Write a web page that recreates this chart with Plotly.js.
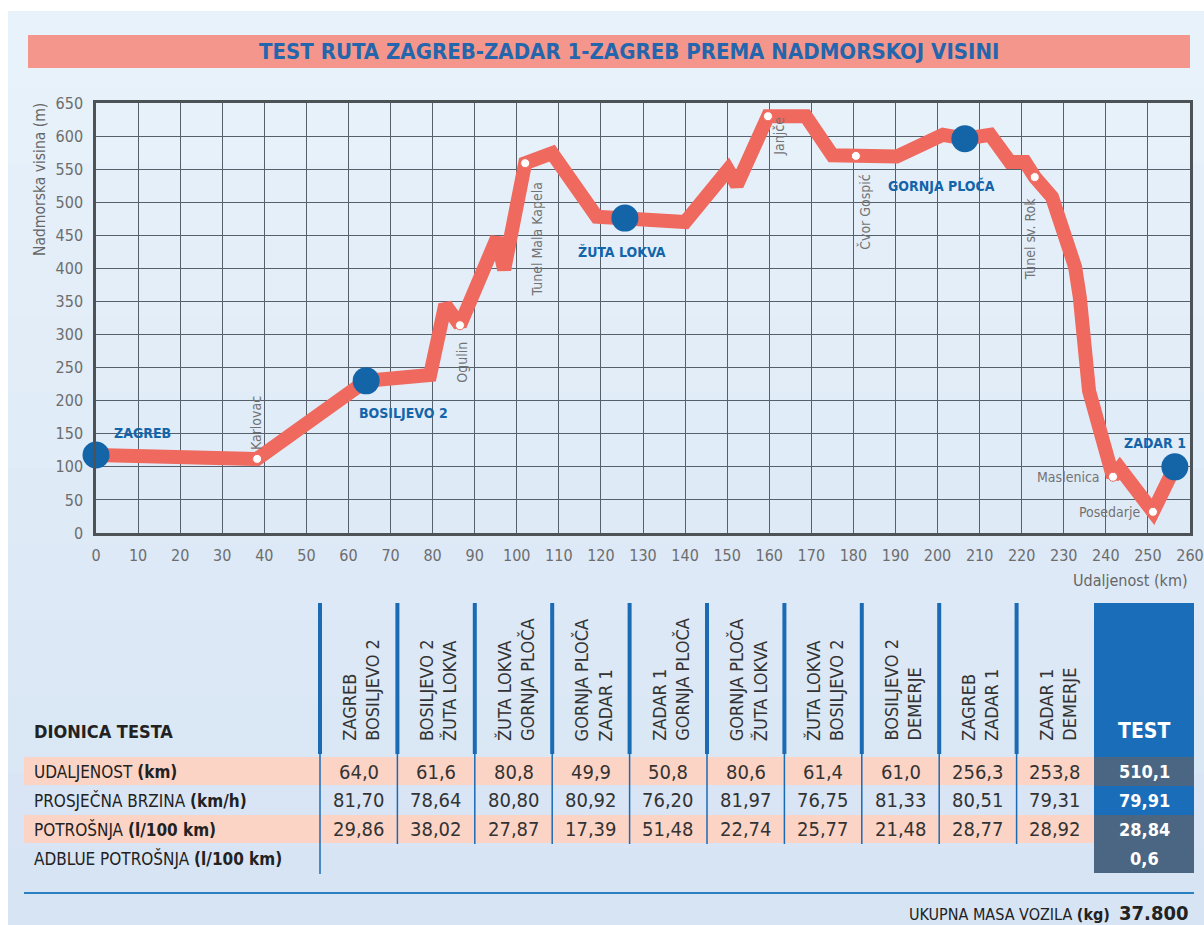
<!DOCTYPE html>
<html>
<head>
<meta charset="utf-8">
<script src="https://cdn.plot.ly/plotly-3.0.1.min.js"></script>
<style>
  body { margin: 0; background: #ffffff; }
  #chart { width: 1204px; height: 925px; }
</style>
</head>
<body>
<div id="chart"></div>
<script>
// elevation profile (km, m)
const distKm = [0, 38.3, 64.2, 79.4, 83.0, 86.5, 95.3, 97.0, 102.0, 108.4, 119.0, 125.7, 140.0, 150.2, 152.3, 159.7, 168.7, 175.0, 180.6, 190.3, 201.3, 206.5, 212.5, 217.2, 220.8, 223.1, 227.2, 232.7, 233.8, 236.0, 241.7, 243.3, 251.2, 256.4];
const altM = [118, 112, 230, 239, 345, 314, 446, 398, 559, 574, 478, 476, 470, 549, 526, 630, 630, 571, 570, 569, 602, 596, 602, 561, 561, 538, 508, 402, 357, 215, 85, 98, 32, 100];

// small places on the route
const townNames = ['Karlovac', 'Ogulin', 'Tunel Mala Kapela', 'Janjče', 'Čvor Gospić', 'Tunel sv. Rok', 'Maslenica', 'Posedarje'];
const townKm = [38.3, 86.5, 102.0, 159.7, 180.6, 223.1, 241.7, 251.2];
const townAlt = [112, 314, 559, 630, 570, 538, 85, 32];

// test stops
const stopNames = ['ZAGREB', 'BOSILJEVO 2', 'ŽUTA LOKVA', 'GORNJA PLOČA', 'ZADAR 1'];
const stopKm = [0, 64.2, 125.7, 206.5, 256.4];
const stopAlt = [118, 230, 476, 596, 100];

// table
const sections = [
  ['ZAGREB', 'BOSILJEVO 2'], ['BOSILJEVO 2', 'ŽUTA LOKVA'], ['ŽUTA LOKVA', 'GORNJA PLOČA'],
  ['GORNJA PLOČA', 'ZADAR 1'], ['ZADAR 1', 'GORNJA PLOČA'], ['GORNJA PLOČA', 'ŽUTA LOKVA'],
  ['ŽUTA LOKVA', 'BOSILJEVO 2'], ['BOSILJEVO 2', 'DEMERJE'], ['ZAGREB', 'ZADAR 1'], ['ZADAR 1', 'DEMERJE']
];
const rowLabels = ['UDALJENOST <b>(km)</b>', 'PROSJEČNA BRZINA <b>(km/h)</b>', 'POTROŠNJA <b>(l/100 km)</b>', 'ADBLUE POTROŠNJA <b>(l/100 km)</b>'];
const udaljenost = [64.0, 61.6, 80.8, 49.9, 50.8, 80.6, 61.4, 61.0, 256.3, 253.8];
const brzina = [81.70, 78.64, 80.80, 80.92, 76.20, 81.97, 76.75, 81.33, 80.51, 79.31];
const potrosnja = [29.86, 38.02, 27.87, 17.39, 51.48, 22.74, 25.77, 21.48, 28.77, 28.92];
const testValues = [510.1, 79.91, 28.84, 0.6];
const ukupnaMasa = '37.800';

const FONT = "'Liberation Sans Narrow', 'DejaVu Sans Condensed', Roboto, sans-serif";
const RED = '#ef695e';
const BLUE = '#1464a8';

// plot area in pixels
const L = 96, R = 1190, T = 103, B = 533;
function fx(p) { return (p - L) / (R - L); }
function fy(p) { return (B - p) / (B - T); }
function fmt(v, d) { return v.toFixed(d).replace('.', ','); }

let shapes = [];
let annotations = [];

// text placed in page pixels
function note(x, y, text, size, color, extra) {
  annotations.push(Object.assign({
    xref: 'paper', yref: 'paper', x: fx(x), y: fy(y), text: text, showarrow: false,
    xanchor: 'center', yanchor: 'middle', font: { family: FONT, size: size, color: color }
  }, extra || {}));
}
function box(x0, y0, x1, y1, color, layer) {
  shapes.push({ type: 'rect', xref: 'paper', yref: 'paper', layer: layer || 'above', x0: fx(x0), x1: fx(x1), y0: fy(y0), y1: fy(y1), fillcolor: color, line: { width: 0 } });
}

// background (soft vertical gradient) and title bar
const bands = 12;
for (let i = 0; i < bands; i++) {
  const t = i / (bands - 1);
  const r = Math.round(232 - 17 * t), g = Math.round(242 - 14 * t), b = Math.round(251 - 7 * t);
  box(8, 11 + i * (914 / bands), 1204, 11 + (i + 1) * (914 / bands) + 1, `rgb(${r},${g},${b})`, 'below');
}
box(28, 35, 1190, 68, '#f4968b', 'below');
note(629, 52, '<b>TEST RUTA ZAGREB-ZADAR 1-ZAGREB PREMA NADMORSKOJ VISINI</b>', 22, '#2366ad');

// axis titles
note(40, 180, 'Nadmorska visina (m)', 15.5, '#666', { textangle: -90 });
note(1190, 580, 'Udaljenost (km)', 16, '#666', { xanchor: 'right' });

// town labels
const townPos = [
  { xs: -1, ys: 7, xa: 'center', ya: 'bottom', a: -90 },
  { xs: 2, ys: -14, xa: 'center', ya: 'top', a: -90 },
  { xs: 12, ys: -17, xa: 'center', ya: 'top', a: -90 },
  { xs: 11, ys: 2, xa: 'center', ya: 'top', a: -90 },
  { xs: 9, ys: -16, xa: 'center', ya: 'top', a: -90 },
  { xs: -5, ys: -18, xa: 'center', ya: 'top', a: -90 },
  { xs: -11, ys: 0, xa: 'right', ya: 'middle', a: 0 },
  { xs: -10, ys: 0, xa: 'right', ya: 'middle', a: 0 }
];
townNames.forEach((n, i) => {
  const p = townPos[i];
  annotations.push({ x: townKm[i], y: townAlt[i], text: n, showarrow: false, textangle: p.a, xanchor: p.xa, yanchor: p.ya, xshift: p.xs, yshift: p.ys, font: { family: FONT, size: 14, color: '#737373' } });
});

// stop labels
const stopPos = [[46, 22], [37, -32], [-3, -34], [-23, -47], [-20, 24]];
stopNames.forEach((n, i) => {
  annotations.push({ x: stopKm[i], y: stopAlt[i], text: '<b>' + n + '</b>', showarrow: false, xanchor: 'center', yanchor: 'middle', xshift: stopPos[i][0], yshift: stopPos[i][1], font: { family: FONT, size: 14, color: BLUE } });
});

// ---- table ----
const colX0 = 320, colW = 77.4, testX0 = 1094, testX1 = 1194;
const rowY = [[757, 786], [786, 815], [815, 844], [844, 873]];

// salmon rows
[0, 2].forEach(r => box(24, rowY[r][0], testX0, rowY[r][1] - 1, '#fcd4c6', 'below'));

// columns
for (let i = 0; i < sections.length; i++) {
  const x = colX0 + i * colW;
  shapes.push({ type: 'line', xref: 'paper', yref: 'paper', x0: fx(x), x1: fx(x), y0: fy(603), y1: fy(754), line: { color: '#1b6ab4', width: 4 } });
  shapes.push({ type: 'line', xref: 'paper', yref: 'paper', x0: fx(x), x1: fx(x), y0: fy(754), y1: fy(i === 0 ? 874 : 844), line: { color: '#1b6ab4', width: 1.5 } });
  note(x + colW / 2 + 2, 743, sections[i].join('<br>'), 18, '#333', { yanchor: 'bottom', align: 'left', textangle: -90 });
  const cx = x + colW / 2;
  note(cx, 772, fmt(udaljenost[i], 1), 20, '#333');
  note(cx, 800, fmt(brzina[i], 2), 20, '#333');
  note(cx, 829, fmt(potrosnja[i], 2), 20, '#333');
}

// TEST column
box(testX0, 603, testX1, 757, '#1a6db8');
const testFill = ['#4b6682', '#1a6db8', '#4b6682', '#4b6682'];
const testDec = [1, 2, 2, 1];
rowY.forEach((ry, r) => {
  box(testX0, ry[0], testX1, ry[1] + (r < 3 ? 0.5 : 0), testFill[r]);
  note((testX0 + testX1) / 2, (ry[0] + ry[1]) / 2, '<b>' + fmt(testValues[r], testDec[r]) + '</b>', 18, '#ffffff');
  note(32, (ry[0] + ry[1]) / 2, rowLabels[r], 17, '#222', { xanchor: 'left' });
});
note((testX0 + testX1) / 2, 731, '<b>TEST</b>', 21, '#ffffff');
note(32, 731, '<b>DIONICA TESTA</b>', 18, '#222', { xanchor: 'left' });

// bottom line and mass
shapes.push({ type: 'line', xref: 'paper', yref: 'paper', x0: fx(24), x1: fx(1194), y0: fy(893), y1: fy(893), line: { color: '#2b80c2', width: 2 } });
note(1190, 913, 'UKUPNA MASA VOZILA <b>(kg)</b>  <b><span style="font-size:20px">' + ukupnaMasa + '</span></b>', 16, '#222', { xanchor: 'right' });

const data = [
  {
    type: 'scatter', mode: 'lines', x: distKm, y: altM,
    line: { color: RED, width: 14 }, cliponaxis: false, hoverinfo: 'skip'
  },
  {
    type: 'scatter', mode: 'markers', x: townKm, y: townAlt, text: townNames,
    marker: { color: '#ffffff', size: 9, line: { color: RED, width: 1 } }, cliponaxis: false
  },
  {
    type: 'scatter', mode: 'markers', x: stopKm, y: stopAlt, text: stopNames,
    marker: { color: BLUE, size: 27 }, cliponaxis: false
  }
];

const axisCommon = {
  showgrid: true, gridcolor: '#56606b', gridwidth: 1, zeroline: false,
  showline: true, linecolor: '#4d5257', linewidth: 2.5, mirror: true,
  ticks: '', tickfont: { family: FONT, size: 16, color: '#6d6d6d' }, fixedrange: true
};

const layout = {
  width: 1204, height: 925,
  margin: { l: L, r: 1204 - R, t: T, b: 925 - B },
  paper_bgcolor: '#ffffff', plot_bgcolor: '#e4eef9',
  showlegend: false,
  xaxis: Object.assign({}, axisCommon, { range: [0, 260], dtick: 10, tick0: 0, ticklabelstandoff: 6 }),
  yaxis: Object.assign({}, axisCommon, { range: [0, 650], dtick: 50, tick0: 0, ticklabelstandoff: 7 }),
  shapes: shapes,
  annotations: annotations
};

Plotly.newPlot('chart', data, layout, { displayModeBar: false });
</script>
</body>
</html>
